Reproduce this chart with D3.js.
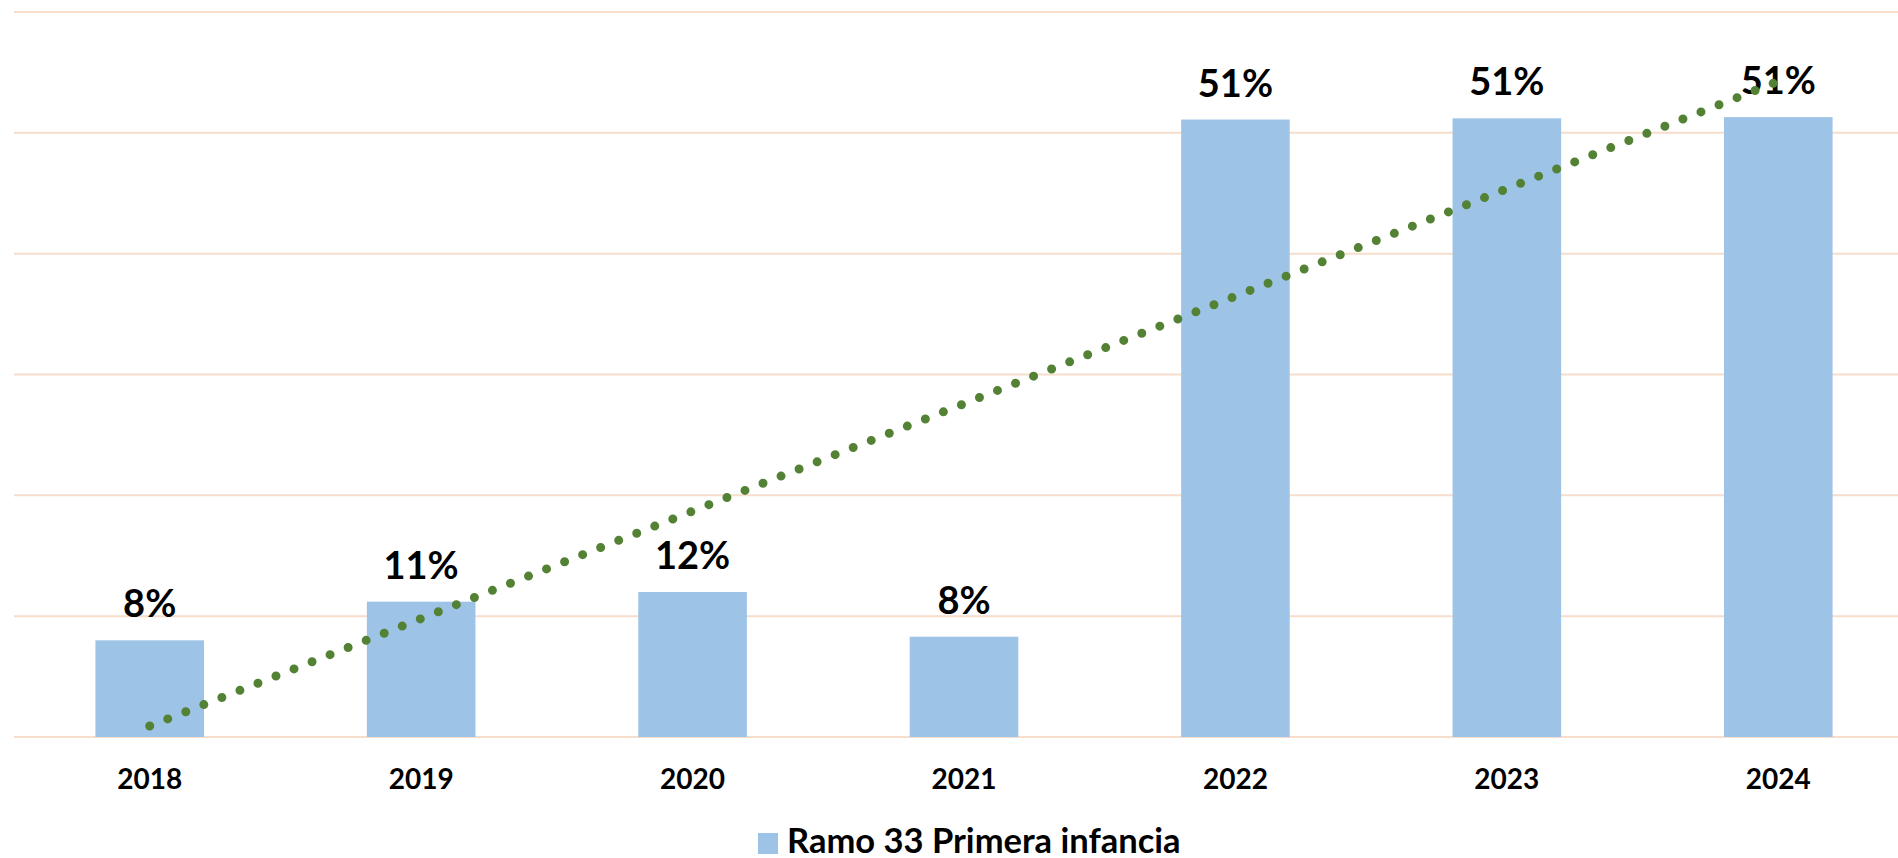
<!DOCTYPE html>
<html>
<head>
<meta charset="utf-8">
<script src="https://cdn.jsdelivr.net/npm/d3@7"></script>
<style>
  body { margin: 0; background: #fff; }
  svg { display: block; font-family: Lato, 'Noto Sans', sans-serif; }
  .bar-label { font-weight: bold; font-size: 38px; fill: #000; }
  .year-label { font-weight: bold; font-size: 28px; fill: #000; }
  .legend-label { font-weight: bold; font-size: 34.5px; fill: #000; }
</style>
</head>
<body>
<script>
// values (percent)
var years = ['2018', '2019', '2020', '2021', '2022', '2023', '2024'];
var shares = [8.0, 11.2, 12.0, 8.3, 51.1, 51.2, 51.3];
var gridTicks = [0, 10, 20, 30, 40, 50, 60];
var seriesName = 'Ramo 33 Primera infancia';

var
  width = 1898,
  height = 858,
  plotLeft = 14,
  plotRight = 1914,
  baseY = 737,
  topY = 12,
  svg = d3.select('body').append('svg')
    .attr('width', width)
    .attr('height', height);

var x = d3.scaleBand()
  .domain(years)
  .range([plotLeft, plotRight])
  .paddingInner(0.6)
  .paddingOuter(0.3);

var y = d3.scaleLinear()
  .domain([0, 60])
  .range([baseY, topY]);

// horizontal gridlines
svg.append('g')
  .selectAll('line')
  .data(gridTicks)
  .enter()
  .append('line')
  .attr('x1', plotLeft)
  .attr('x2', plotRight)
  .attr('y1', function (d) { return y(d); })
  .attr('y2', function (d) { return y(d); })
  .attr('stroke', '#F6DDCC')
  .attr('stroke-width', 2);

// bars
svg.append('g')
  .selectAll('rect')
  .data(shares)
  .enter()
  .append('rect')
  .attr('x', function (d, i) { return x(years[i]); })
  .attr('y', function (d) { return y(d); })
  .attr('width', x.bandwidth())
  .attr('height', function (d) { return y(0) - y(d); })
  .attr('fill', '#9DC3E6');

// value labels
svg.append('g')
  .selectAll('text')
  .data(shares)
  .enter()
  .append('text')
  .attr('class', 'bar-label')
  .attr('x', function (d, i) { return x(years[i]) + x.bandwidth() / 2; })
  .attr('y', function (d) { return y(d) - 23; })
  .attr('text-anchor', 'middle')
  .text(function (d) { return Math.round(d) + '%'; });

// year labels
svg.append('g')
  .selectAll('text')
  .data(years)
  .enter()
  .append('text')
  .attr('class', 'year-label')
  .attr('x', function (d) { return x(d) + x.bandwidth() / 2; })
  .attr('y', 789)
  .attr('text-anchor', 'middle')
  .text(function (d) { return d; });

// linear trendline (least squares over the bars)
var n = shares.length,
  meanX = (n - 1) / 2,
  meanY = d3.mean(shares),
  sxy = d3.sum(shares, function (d, i) { return (i - meanX) * (d - meanY); }),
  sxx = d3.sum(shares, function (d, i) { return (i - meanX) * (i - meanX); }),
  slope = sxy / sxx,
  intercept = meanY - slope * meanX;

var trend = [0, n - 1].map(function (i) { return { i: i, v: intercept + slope * i }; });

svg.append('path')
  .datum(trend)
  .attr('d', d3.line()
    .x(function (d) { return x(years[d.i]) + x.bandwidth() / 2; })
    .y(function (d) { return y(d.v); }))
  .attr('fill', 'none')
  .attr('stroke', '#548235')
  .attr('stroke-width', 9)
  .attr('stroke-linecap', 'round')
  .attr('stroke-dasharray', '0 19.4');

// legend
var legend = svg.append('g')
  .attr('transform', 'translate(758, 833)');

legend.append('rect')
  .attr('width', 20)
  .attr('height', 21)
  .attr('fill', '#9DC3E6');

legend.append('text')
  .attr('class', 'legend-label')
  .attr('x', 29)
  .attr('y', 20)
  .text(seriesName);
</script>
</body>
</html>
